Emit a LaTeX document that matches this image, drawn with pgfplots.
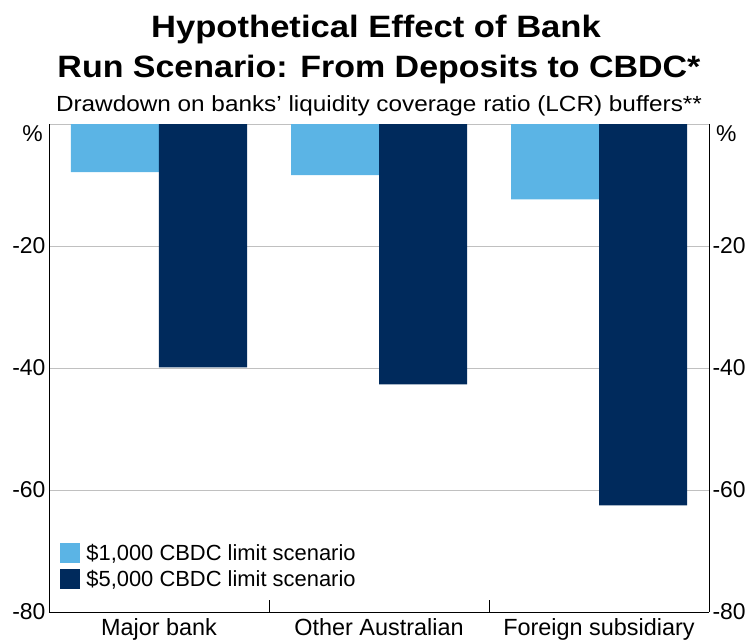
\documentclass[border=0pt]{standalone}
\usepackage{fontspec}
\setmainfont{Liberation Sans}
\usepackage{pgfplots}
\pgfplotsset{compat=1.18}
\definecolor{lightb}{HTML}{5BB4E5}
\definecolor{darkb}{HTML}{002A5C}
\definecolor{gridg}{HTML}{C0C0C0}
\begin{document}
\begin{tikzpicture}
\begin{axis}[
  name=ax,
  scale only axis,
  width=660bp, height=488bp,
  xmin=-0.5, xmax=2.5,
  ymin=-80, ymax=0,
  axis x line*=bottom,
  axis y line*=left,
  axis line style={-, black, line width=1pt},
  xtick={0,1,2},
  xticklabels={Major bank, Other Australian, Foreign subsidiary},
  x tick label style={font=\fontsize{23.5}{27}\selectfont, yshift=-3bp},
  major tick length=0pt,
  minor xtick={0.5,1.5},
  minor tick length=12bp,
  tick align=inside,
  minor tick style={black, line width=0.8pt},
  ytick={-80,-60,-40,-20,0},
  yticklabels={-80,-60,-40,-20,{}},
  y tick label style={font=\fontsize{23}{27}\selectfont},
  ymajorgrids,
  grid style={gridg, line width=1pt},
  /pgf/number format/assume math mode=true,
  legend cell align=left,
  legend image code/.code={\fill[#1] (0bp,-10bp) rectangle (20bp,10bp); \path (24bp,0bp);},
  legend style={draw=none, fill=none, at={(0.017,0.045)}, anchor=south west,
    inner sep=0pt, font=\fontsize{22}{25}\selectfont, row sep=4bp},
]
\addplot[ybar, bar width=0.4, bar shift=-0.2, fill=lightb, draw=none] coordinates {(0,-7.9) (1,-8.4) (2,-12.35)};
\addlegendentry{\$1,000 CBDC limit scenario}
\addplot[ybar, bar width=0.4, bar shift=0.2, fill=darkb, draw=none] coordinates {(0,-39.9) (1,-42.7) (2,-62.5)};
\addlegendentry{\$5,000 CBDC limit scenario}
\end{axis}
\begin{axis}[
  scale only axis,
  width=660bp, height=488bp,
  xmin=-0.5, xmax=2.5,
  ymin=-80, ymax=0,
  axis x line=none,
  axis y line*=right,
  axis line style={-, black, line width=1pt},
  ytick={-80,-60,-40,-20},
  y tick label style={font=\fontsize{23}{27}\selectfont},
  major tick length=0pt,
  /pgf/number format/assume math mode=true,
]
\end{axis}
\node[anchor=east, font=\fontsize{23}{27}\selectfont, inner sep=0pt] at (-6bp,478bp) {\%};
\node[anchor=west, font=\fontsize{23}{27}\selectfont, inner sep=0pt] at (667bp,478bp) {\%};
\node[font=\bfseries\fontsize{31}{35}\selectfont] at (327bp,582bp) {\scalebox{1.12}[1]{Hypothetical Effect of Bank}};
\node[font=\bfseries\fontsize{31}{35}\selectfont] at (330bp,542bp) {\scalebox{1.1}[1]{Run Scenario: From Deposits to CBDC*}};
\node[font=\fontsize{22}{26}\selectfont] at (330bp,506bp) {\scalebox{1.11}[1]{Drawdown on banks’ liquidity coverage ratio (LCR) buffers**}};
\pgfresetboundingbox
\path[use as bounding box] (-49bp,-29bp) rectangle (700bp,612bp);
\end{tikzpicture}
\end{document}
